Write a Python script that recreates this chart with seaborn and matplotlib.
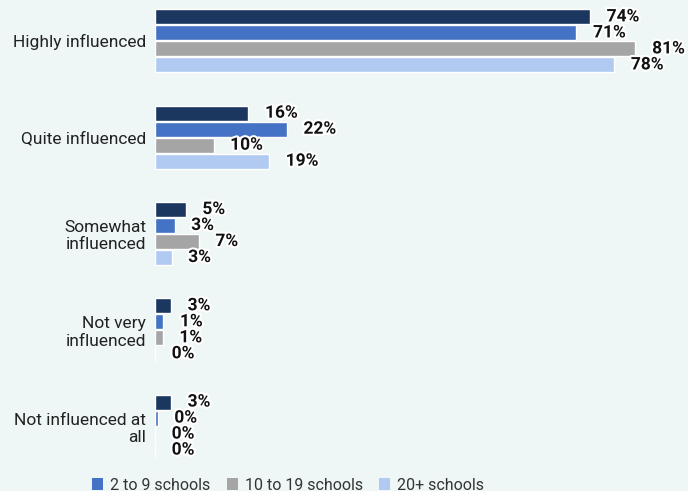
import matplotlib
matplotlib.use("Agg")
import matplotlib.pyplot as plt
import matplotlib.patheffects as pe
import pandas as pd
import seaborn as sns

categories = ["Highly influenced", "Quite influenced", "Somewhat\ninfluenced",
              "Not very\ninfluenced", "Not influenced at\nall"]
series = ["1 school", "2 to 9 schools", "10 to 19 schools", "20+ schools"]
one_school = [73.6, 15.8, 5.2, 2.7, 2.7]
two_to_nine = [71.3, 22.3, 3.3, 1.4, 0.45]
ten_to_nineteen = [81.3, 9.9, 7.4, 1.3, 0.0]
twenty_plus = [77.7, 19.3, 2.8, 0.0, 0.0]
colors = ["#1b365f", "#4472c4", "#a5a5a5", "#b0caf2"]

bg = "#eef7f6"

rows = []
for name, vals in zip(series, [one_school, two_to_nine, ten_to_nineteen, twenty_plus]):
    for cat, v in zip(categories, vals):
        rows.append({"category": cat, "group": name, "value": v})
df = pd.DataFrame(rows)

sns.set_theme(style="white")
plt.rcParams["font.family"] = ["Roboto", "DejaVu Sans"]

fig = plt.figure(figsize=(6.88, 4.91), dpi=100, facecolor=bg)
ax = fig.add_axes([155 / 688, 21 / 491, 520 / 688, 1 - 21 / 491])
ax.set_facecolor(bg)

sns.barplot(data=df, y="category", x="value", hue="group", order=categories,
            hue_order=series, palette=colors, orient="h", width=0.665,
            gap=0.06, saturation=1, ax=ax, legend=True)

for container in ax.containers:
    ax.bar_label(container, labels=[f"{b.get_width():.0f}%" for b in container],
                 padding=12, fontsize=12.5, fontweight="bold", color="#111111",
                 path_effects=[pe.withStroke(linewidth=3, foreground="white")])

ax.set_xlim(0, 520 / 5.91)
ax.set_ylim(4.456, -0.425)
ax.set_xlabel("")
ax.set_ylabel("")
ax.set_xticks([])
ax.tick_params(axis="y", length=0, pad=6.5, labelsize=12.5, labelcolor="#222222")
for s in ax.spines.values():
    s.set_visible(False)

handles, labels = ax.get_legend_handles_labels()
ax.legend_.remove()
leg = fig.legend(handles[1:], labels[1:], loc="center left",
                 bbox_to_anchor=(92 / 688, 6 / 491), ncol=3, frameon=False,
                 fontsize=11.5, handlelength=0.7, handleheight=0.7,
                 handletextpad=0.45, columnspacing=1.0, borderpad=0,
                 borderaxespad=0, labelcolor="#333333")
for h in leg.legend_handles:
    h.set_linewidth(0)

fig.savefig("out.png", dpi=100, facecolor=bg)
